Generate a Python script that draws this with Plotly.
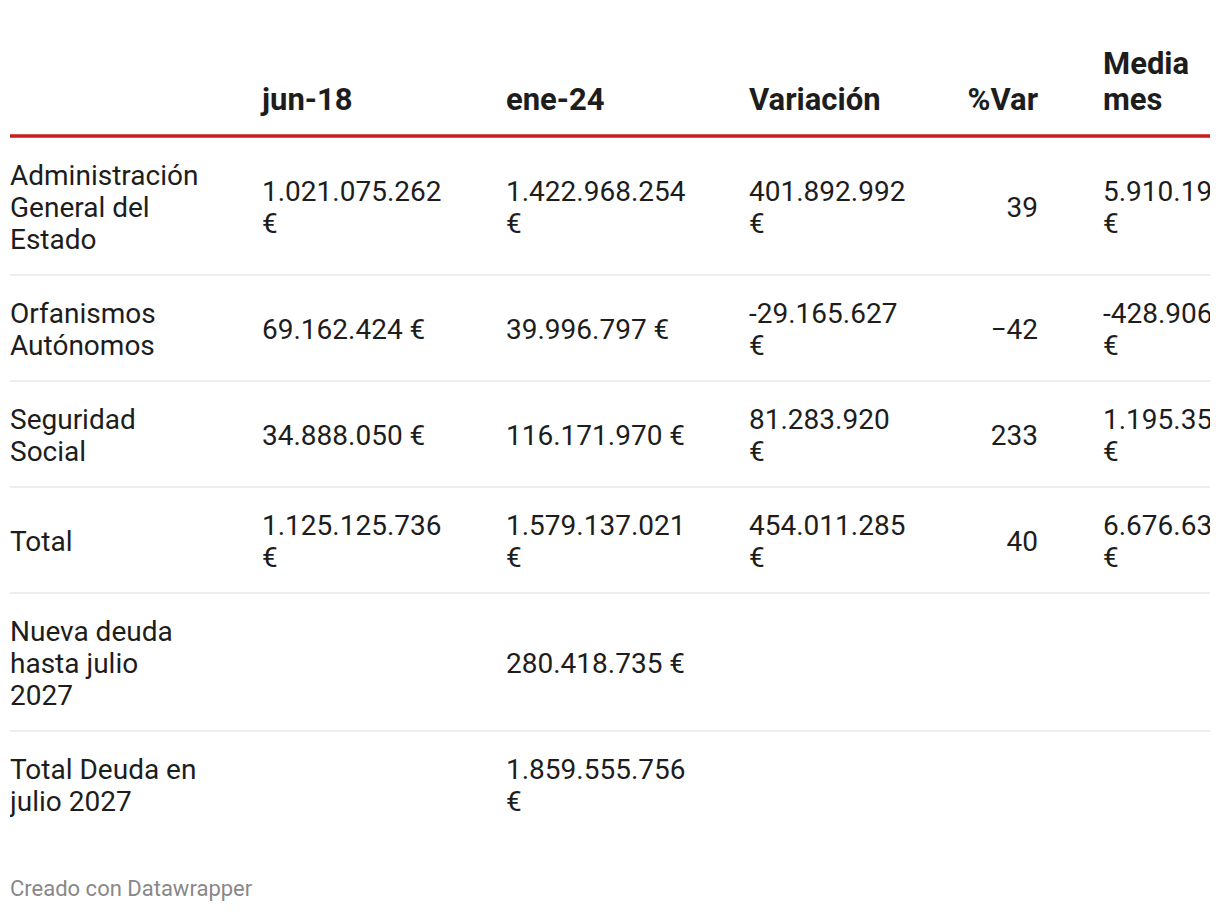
import textwrap
import plotly.graph_objects as go

# ---------------- data ----------------
row_labels = [
    "Administración General del Estado",
    "Orfanismos Autónomos",
    "Seguridad Social",
    "Total",
    "Nueva deuda hasta julio 2027",
    "Total Deuda en julio 2027",
]
col_headers = ["jun-18", "ene-24", "Variación", "%Var", "Media mes"]
jun18 = [1021075262, 69162424, 34888050, 1125125736, None, None]
ene24 = [1422968254, 39996797, 116171970, 1579137021, 280418735, 1859555756]
variacion = [401892992, -29165627, 81283920, 454011285, None, None]
pct_var = [39, -42, 233, 40, None, None]
media_mes = [5910191, -428906, 1195352, 6676637, None, None]
footer_text = "Creado con Datawrapper"

# ---------------- style / layout ----------------
W, H = 1220, 912
FONT = "Roboto"
TEXT_COLOR = "#1d1d1d"
RED = "#c71e1d"
SEP = "#eeeeee"
BODY_SIZE = 28
HEAD_SIZE = 31
FOOT_SIZE = 22
LINE_H = 32
HEAD_LINE_H = 36
ROW_PAD = 21
TEXT_SHIFT = 2.5
HEAD_LAST_LINE_Y = 102.5
RULE_Y = 136
TABLE_TOP = 138
FOOTER_Y = 890

# column geometry in px (x axis maps px-10)
# (x position, alignment, body wrap width, header wrap width)
columns = [
    (10, "left", 14, 14),
    (262, "left", 13, 13),
    (506, "left", 13, 13),
    (749, "left", 11, 11),
    (1038, "right", 99, 99),
    (1103, "left", 9, 5),
]


def eur(v):
    return None if v is None else f"{v:,}".replace(",", ".") + " €"


def pct(v):
    return None if v is None else str(v).replace("-", "\u2212")


cells = [
    row_labels,
    [eur(v) for v in jun18],
    [eur(v) for v in ene24],
    [eur(v) for v in variacion],
    [pct(v) for v in pct_var],
    [eur(v) for v in media_mes],
]


def wrap(s, width):
    if s is None:
        return []
    return textwrap.wrap(s, width, break_on_hyphens=False, break_long_words=False)


n_rows = len(row_labels)
wrapped = [[wrap(cells[c][r], columns[c][2]) for c in range(len(columns))] for r in range(n_rows)]
row_lines = [max(len(x) for x in row) for row in wrapped]

# row boundaries
bounds = [TABLE_TOP]
for n in row_lines:
    bounds.append(bounds[-1] + n * LINE_H + 2 * ROW_PAD)
centers = [(bounds[i] + bounds[i + 1]) / 2 + TEXT_SHIFT for i in range(n_rows)]

fig = go.Figure()

# body text
for c, (cx, align, _, _) in enumerate(columns):
    xs, ys, ts = [], [], []
    for r in range(n_rows):
        lines = wrapped[r][c]
        n = len(lines)
        for i, ln in enumerate(lines):
            xs.append(cx - 10)
            ys.append(centers[r] + (i - (n - 1) / 2) * LINE_H)
            ts.append(ln)
    fig.add_trace(go.Scatter(
        x=xs, y=ys, text=ts, mode="text",
        textposition="middle right" if align == "left" else "middle left",
        textfont=dict(family=FONT, size=BODY_SIZE, color=TEXT_COLOR),
        cliponaxis=True, hoverinfo="skip", showlegend=False,
    ))

# header text
for h, (cx, align, _, hw) in zip(col_headers, columns[1:]):
    lines = wrap(h, hw)
    n = len(lines)
    ys = [HEAD_LAST_LINE_Y - (n - 1 - i) * HEAD_LINE_H for i in range(n)]
    fig.add_trace(go.Scatter(
        x=[cx - 10] * n, y=ys, text=lines, mode="text",
        textposition="middle right" if align == "left" else "middle left",
        textfont=dict(family=FONT, size=HEAD_SIZE, color=TEXT_COLOR, weight="bold"),
        cliponaxis=True, hoverinfo="skip", showlegend=False,
    ))

# footer
fig.add_trace(go.Scatter(
    x=[0], y=[FOOTER_Y], text=[footer_text], mode="text",
    textposition="middle right",
    textfont=dict(family=FONT, size=FOOT_SIZE, color="#888888"),
    cliponaxis=True, hoverinfo="skip", showlegend=False,
))

# rules
shapes = [dict(type="line", xref="x", yref="y", x0=0, x1=1200, y0=RULE_Y, y1=RULE_Y,
               line=dict(color=RED, width=3.5))]
for b in bounds[1:-1]:
    shapes.append(dict(type="line", xref="x", yref="y", x0=0, x1=1200, y0=b - 1, y1=b - 1,
                       line=dict(color=SEP, width=2)))

fig.update_layout(
    width=W, height=H,
    margin=dict(l=10, r=10, t=0, b=0),
    paper_bgcolor="white", plot_bgcolor="white",
    xaxis=dict(range=[0, 1200], visible=False, fixedrange=True),
    yaxis=dict(range=[H, 0], visible=False, fixedrange=True),
    shapes=shapes,
    showlegend=False,
)

fig.write_html("out.html", config={"displayModeBar": False},
               post_script="document.body.style.margin='0';")
